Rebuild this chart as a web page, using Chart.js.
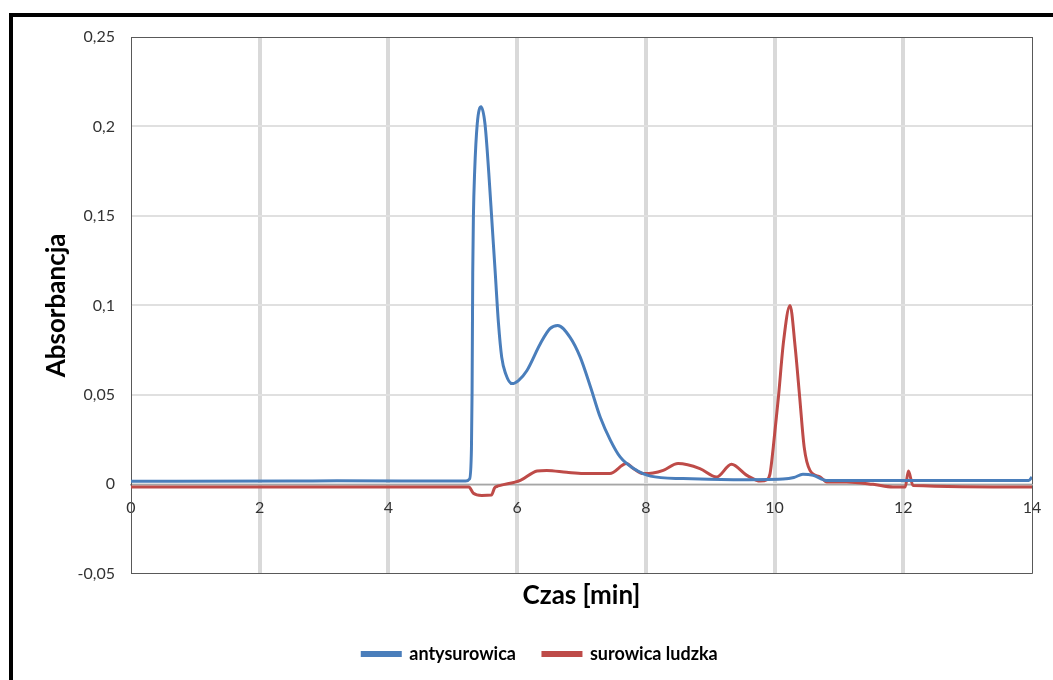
<!DOCTYPE html>
<html>
<head>
<meta charset="utf-8">
<script src="https://cdn.jsdelivr.net/npm/chart.js@4/dist/chart.umd.min.js"></script>
<style>
  html, body { margin: 0; padding: 0; background: #fff; overflow: hidden; }
  #frame {
    position: absolute; left: 9px; top: 13px; width: 1100px; height: 800px;
    border-left: 4px solid #000; border-top: 4px solid #000;
  }
  #chart { position: absolute; left: 0; top: 0; }
</style>
</head>
<body>
<div id="frame"></div>
<canvas id="chart" width="1053" height="680"></canvas>
<script>
// retention time [min] and absorbance, antiserum
const timeAnti = [0, 2.5, 3.2, 5.2, 5.26, 5.29, 5.30, 5.31, 5.32, 5.34, 5.38, 5.44, 5.50, 5.56, 5.61, 5.66,
  5.71, 5.76, 5.82, 5.92, 6.02, 6.15, 6.36, 6.51, 6.63, 6.82, 6.98, 7.14, 7.29, 7.45, 7.60, 7.81,
  8.07, 8.58, 9.36, 10.13, 10.3, 10.44, 10.6, 10.8, 11.8, 13.95, 14];
const absAnti = [0.0017, 0.0018, 0.0020, 0.0018, 0.003, 0.02, 0.0525, 0.118, 0.149, 0.175, 0.2015, 0.211, 0.2015, 0.1737, 0.1458, 0.118,
  0.0899, 0.0711, 0.062, 0.0563, 0.058, 0.0635, 0.0786, 0.087, 0.0888, 0.0823, 0.0711, 0.0544, 0.0376, 0.0246, 0.0153, 0.0088,
  0.0046, 0.0032, 0.0026, 0.003, 0.0038, 0.0056, 0.005, 0.0022, 0.0022, 0.0022, 0.004];

// retention time [min] and absorbance, human serum
const timeHuman = [0, 5.25, 5.32, 5.45, 5.60, 5.65, 5.69, 5.74, 6.05, 6.31, 6.46, 6.77, 7.03, 7.44, 7.70, 7.80, 7.96,
  8.11, 8.27, 8.50, 8.84, 9.10, 9.33, 9.57, 9.78, 9.88, 9.93, 9.98, 10.06, 10.14, 10.24, 10.32, 10.39,
  10.46, 10.55, 10.71, 10.81, 11.12, 11.53, 11.84, 12.03, 12.08, 12.15, 14];
const absHuman = [-0.0015, -0.0015, -0.005, -0.0062, -0.006, -0.002, -0.0011, -0.0006, 0.0022, 0.0075, 0.0078, 0.0067, 0.006, 0.006, 0.0116, 0.009, 0.006,
  0.0063, 0.0078, 0.0116, 0.0088, 0.0041, 0.0112, 0.005, 0.0018, 0.0026, 0.006, 0.0208, 0.0488, 0.080, 0.100, 0.0767, 0.0488,
  0.0208, 0.0078, 0.0041, 0.0013, 0.0013, 0.0, -0.0015, -0.0015, 0.0074, -0.0006, -0.0015];

const xTicks = [0, 2, 4, 6, 8, 10, 12, 14];
const yTicks = [-0.05, 0, 0.05, 0.1, 0.15, 0.2, 0.25];
const seriesNames = ['antysurowica', 'surowica ludzka'];

const FONT = 'Lato, "Open Sans", sans-serif';
const toPoints = (xs, ys) => xs.map((t, i) => ({ x: t, y: ys[i] }));
const round2 = (v) => Number(v.toFixed(2));

const chart = new Chart(document.getElementById('chart'), {
  type: 'line',
  data: {
    datasets: [
      {
        label: seriesNames[0],
        data: toPoints(timeAnti, absAnti),
        borderColor: '#4a7ebb',
        backgroundColor: '#4a7ebb',
      },
      {
        label: seriesNames[1],
        data: toPoints(timeHuman, absHuman),
        borderColor: '#be4b48',
        backgroundColor: '#be4b48',
      },
    ],
  },
  options: {
    responsive: false,
    animation: false,
    elements: {
      point: { radius: 0 },
      line: { borderWidth: 3, cubicInterpolationMode: 'monotone' },
    },
    // left padding shifts the legend; the y axis width makes up the rest up to the plot edge
    layout: { padding: { top: 37, right: 21, left: 48, bottom: 7 } },
    scales: {
      x: {
        type: 'linear',
        min: 0,
        max: 14,
        position: { y: 0 },
        afterBuildTicks: (s) => { s.ticks = xTicks.map((v) => ({ value: v })); },
        // the "14" label may hang past the plot edge
        afterFit: (s) => { s.paddingRight = 0; s.paddingLeft = 0; },
        grid: {
          drawTicks: false,
          color: (c) => (c.tick.value === 0 || c.tick.value === 14 ? '#595959' : '#d9d9d9'),
          lineWidth: (c) => (c.tick.value === 0 || c.tick.value === 14 ? 1 : 4),
        },
        border: { display: true, color: '#a6a6a6', width: 1.5 },
        ticks: { padding: 14, color: '#333', font: { family: FONT, size: 16 } },
      },
      y: {
        min: -0.05,
        max: 0.25,
        afterBuildTicks: (s) => { s.ticks = yTicks.map((v) => ({ value: v })); },
        afterFit: (s) => { s.width = 83; },
        grid: {
          drawTicks: false,
          color: (c) => {
            const v = round2(c.tick.value);
            return v === 0.25 || v === -0.05 ? '#595959' : '#e0e0e0';
          },
          lineWidth: (c) => {
            const v = round2(c.tick.value);
            return v === 0.25 || v === -0.05 ? 1 : 2;
          },
        },
        border: { display: true, color: '#595959', width: 1 },
        ticks: {
          padding: 16,
          color: '#333',
          font: { family: FONT, size: 16 },
          callback: (v) => String(round2(v)).replace('.', ','),
        },
        title: {
          display: true,
          text: 'Absorbancja',
          color: '#000',
          font: { family: FONT, size: 26, weight: 'bold' },
          padding: { top: -7, bottom: 0 },
        },
      },
    },
    plugins: {
      title: {
        display: true,
        position: 'bottom',
        fullSize: false,
        weight: 500,
        text: 'Czas [min]',
        color: '#000',
        font: { family: FONT, size: 26, weight: 'bold' },
        padding: { top: 6, bottom: 7 },
      },
      legend: {
        position: 'bottom',
        labels: {
          boxWidth: 38,
          boxHeight: 3,
          padding: 27,
          color: '#000',
          font: { family: FONT, size: 18, weight: 'bold' },
        },
      },
      tooltip: { enabled: false },
    },
  },
});
</script>
</body>
</html>
